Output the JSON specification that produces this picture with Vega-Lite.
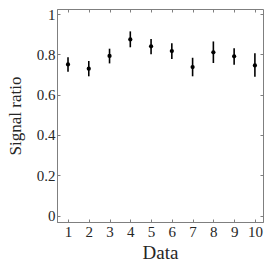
{
  "$schema": "https://vega.github.io/schema/vega-lite/v6.json",
  "autosize": "none",
  "width": 206,
  "height": 213,
  "padding": {"left": 57, "top": 9, "right": 10, "bottom": 51},
  "background": "white",
  "config": {
    "font": "Liberation Serif",
    "view": {"stroke": "#7f7f7f", "strokeWidth": 1},
    "axis": {"grid": false, "domainColor": "#7f7f7f", "tickColor": "#7f7f7f", "labelColor": "#262626", "titleColor": "#262626", "labelFont": "Liberation Serif", "titleFont": "Liberation Serif", "titleFontWeight": "normal", "labelFontSize": 15, "titleFontSize": 17, "tickSize": -3}
  },
  "data": {"values": [
    {"x": 1, "y": 0.750, "lo": 0.714, "hi": 0.785},
    {"x": 2, "y": 0.729, "lo": 0.691, "hi": 0.767},
    {"x": 3, "y": 0.792, "lo": 0.755, "hi": 0.828},
    {"x": 4, "y": 0.874, "lo": 0.835, "hi": 0.914},
    {"x": 5, "y": 0.840, "lo": 0.801, "hi": 0.876},
    {"x": 6, "y": 0.816, "lo": 0.777, "hi": 0.855},
    {"x": 7, "y": 0.737, "lo": 0.691, "hi": 0.783},
    {"x": 8, "y": 0.810, "lo": 0.757, "hi": 0.864},
    {"x": 9, "y": 0.790, "lo": 0.748, "hi": 0.830},
    {"x": 10, "y": 0.745, "lo": 0.689, "hi": 0.805}
  ]},
  "layer": [
    {
      "mark": {"type": "rule", "color": "black", "strokeWidth": 1.6},
      "encoding": {
        "x": {"field": "x", "type": "quantitative", "scale": {"domain": [0.47, 10.39], "nice": false, "zero": false},
              "axis": {"values": [1,2,3,4,5,6,7,8,9,10], "title": "Data", "labelPadding": 5, "titlePadding": 4, "titleFontSize": 19, "labelFlush": false}},
        "y": {"field": "lo", "type": "quantitative", "scale": {"domain": [-0.032, 1.025], "nice": false, "zero": false},
              "axis": {"values": [0, 0.2, 0.4, 0.6, 0.8, 1], "format": "~g", "title": "Signal ratio", "labelPadding": 5, "titlePadding": 12, "labelFlush": false}},
        "y2": {"field": "hi"}
      }
    },
    {
      "mark": {"type": "point", "filled": true, "color": "black", "opacity": 1, "size": 18},
      "encoding": {
        "x": {"field": "x", "type": "quantitative", "axis": {"orient": "top", "values": [1,2,3,4,5,6,7,8,9,10], "labels": false, "title": null, "domain": false, "tickSize": -3}},
        "y": {"field": "y", "type": "quantitative", "axis": {"orient": "right", "values": [0, 0.2, 0.4, 0.6, 0.8, 1], "labels": false, "title": null, "domain": false, "tickSize": -3}}
      }
    }
  ],
  "resolve": {"axis": {"x": "independent", "y": "independent"}}
}
